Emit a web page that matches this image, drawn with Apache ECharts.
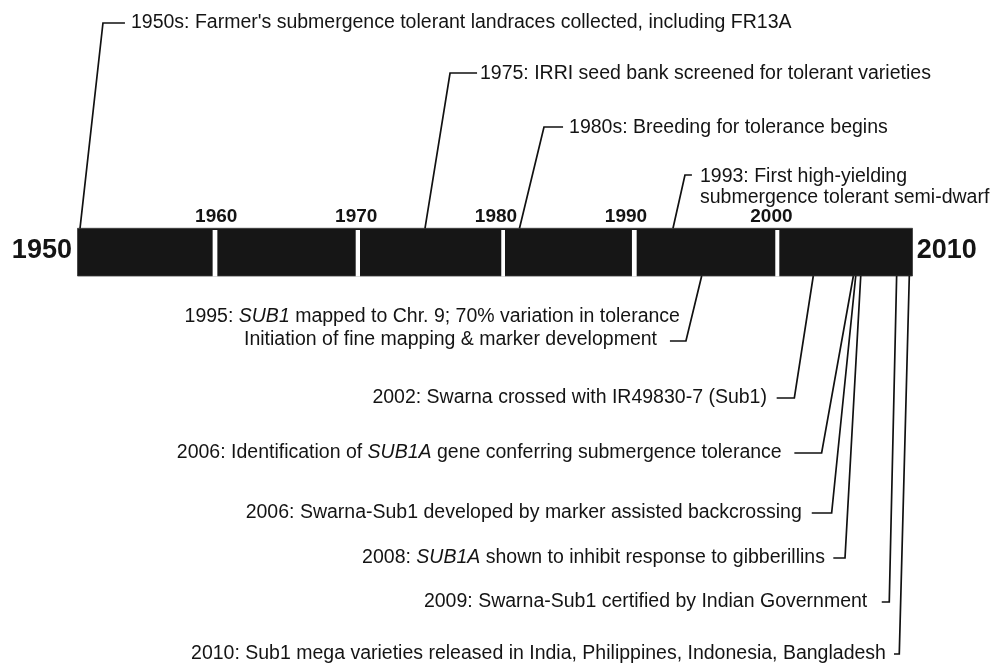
<!DOCTYPE html>
<html><head><meta charset="utf-8">
<script src="https://cdn.jsdelivr.net/npm/echarts@6/dist/echarts.min.js"></script>
<style>html,body{margin:0;padding:0;background:#fff}#c{width:1002px;height:670px}</style>
</head><body><div id="c"></div>
<script>
// ---------- data ----------
const yearRange = [1950, 2010];
const endLabels = ['1950', '2010'];
const endLabelYear = [1949.6, 2010.3];
const decadeLabels = ['1960', '1970', '1980', '1990', '2000'];
const decadeLabelYear = [1959.97, 1970.03, 1980.07, 1989.41, 1999.86];
const gapStart = [1959.71, 1969.99, 1980.45, 1989.84, 2000.14];
const gapEnd   = [1960.05, 1970.30, 1980.72, 1990.18, 2000.43];

// leader lines: year where they touch the bar, elbow year, tick end year, row
const leaderBarYear   = [1950.18, 1974.97, 1981.76, 1992.79, 1994.85, 2002.87, 2005.75, 2005.92, 2006.28, 2008.86, 2009.77];
const leaderElbowYear = [1951.83, 1976.77, 1983.52, 1993.65, 1993.72, 2001.51, 2003.47, 2004.19, 2005.15, 2008.33, 2009.05];
const leaderTickYear  = [1953.41, 1978.71, 1984.89, 1994.15, 1992.57, 2000.24, 2001.51, 2002.76, 2004.31, 2007.79, 2008.67];
const leaderRowY      = [23, 73, 127, 175, 341, 398, 453, 513, 558, 602, 654];

const noteText = [
  "1950s: Farmer's submergence tolerant landraces collected, including FR13A",
  "1975: IRRI seed bank screened for tolerant varieties",
  "1980s: Breeding for tolerance begins",
  "1993: First high-yielding",
  "submergence tolerant semi-dwarf",
  "1995: {i|SUB1} mapped to Chr. 9; 70% variation in tolerance",
  "Initiation of fine mapping & marker development",
  "2002: Swarna crossed with IR49830-7 (Sub1)",
  "2006: Identification of {i|SUB1A} gene conferring submergence tolerance",
  "2006: Swarna-Sub1 developed by marker assisted backcrossing",
  "2008: {i|SUB1A} shown to inhibit response to gibberillins",
  "2009: Swarna-Sub1 certified by Indian Government",
  "2010: Sub1 mega varieties released in India, Philippines, Indonesia, Bangladesh"
];
const noteYear  = [1953.84, 1978.92, 1985.32, 1994.73, 1994.73, 1993.29, 1991.64, 1999.54, 2000.60, 2002.04, 2003.71, 2006.75, 2008.09];
const noteRowY  = [22.5, 74, 127.5, 177, 198, 317, 340, 398, 453, 513, 558, 602, 654];
const noteAlign = ['left','left','left','left','left','right','right','right','right','right','right','right','right'];

// ---------- layout / style ----------
const FF = "'Liberation Sans', Arial, Helvetica, sans-serif";
const FS = 19.5;
const INK = '#141414';
const BAR_TOP = 228.3, BAR_BOTTOM = 276, GAP_TOP = 230;
const DECADE_Y = 217, END_Y = 251;

const chart = echarts.init(document.getElementById('c'), null, {renderer: 'canvas'});

const textStyle = (extra) => Object.assign({
  fill: INK, fontSize: FS, fontFamily: FF
}, extra);

chart.setOption({
  animation: false,
  backgroundColor: '#ffffff',
  grid: {left: 77.5, right: 89.5, top: 0, bottom: 0},
  xAxis: {type: 'value', min: yearRange[0], max: yearRange[1], show: false},
  yAxis: {type: 'value', min: 0, max: 670, inverse: true, show: false},
  series: [
    {
      type: 'custom', name: 'bar', clip: false, silent: true,
      data: [[yearRange[0], BAR_TOP]],
      renderItem: (params, api) => {
        const p0 = api.coord([yearRange[0], BAR_TOP]);
        const p1 = api.coord([yearRange[1], BAR_BOTTOM]);
        const children = [{
          type: 'rect',
          shape: {x: p0[0], y: p0[1], width: p1[0] - p0[0], height: p1[1] - p0[1]},
          style: {fill: '#161616', stroke: '#3a3a3a', lineWidth: 0.8}
        }];
        gapStart.forEach((g, i) => {
          const a = api.coord([g, GAP_TOP]);
          const b = api.coord([gapEnd[i], BAR_BOTTOM + 0.6]);
          children.push({
            type: 'rect',
            shape: {x: a[0], y: a[1], width: b[0] - a[0], height: b[1] - a[1]},
            style: {fill: '#ffffff'}
          });
        });
        return {type: 'group', children};
      }
    },
    {
      type: 'custom', name: 'leaders', clip: false, silent: true,
      data: leaderBarYear.map((x, i) => [x, leaderRowY[i]]),
      renderItem: (params, api) => {
        const i = params.dataIndex;
        const yb = leaderRowY[i] < BAR_TOP ? BAR_TOP : BAR_BOTTOM;
        const pts = [
          api.coord([leaderBarYear[i], yb]),
          api.coord([leaderElbowYear[i], leaderRowY[i]]),
          api.coord([leaderTickYear[i], leaderRowY[i]])
        ];
        return {type: 'polyline', shape: {points: pts},
          style: {stroke: '#111', lineWidth: 1.7, fill: null, lineJoin: 'miter'}};
      }
    },
    {
      type: 'custom', name: 'notes', clip: false, silent: true,
      data: noteYear.map((x, i) => [x, noteRowY[i]]),
      renderItem: (params, api) => {
        const i = params.dataIndex;
        const p = api.coord([noteYear[i], noteRowY[i]]);
        return {type: 'text', x: p[0], y: p[1],
          style: textStyle({
            text: noteText[i], align: noteAlign[i], verticalAlign: 'middle',
            rich: {i: {fontStyle: 'italic', fontSize: FS, fontFamily: FF, fill: INK}}
          })};
      }
    },
    {
      type: 'custom', name: 'decades', clip: false, silent: true,
      data: decadeLabelYear.map((x) => [x, DECADE_Y]),
      renderItem: (params, api) => {
        const i = params.dataIndex;
        const p = api.coord([decadeLabelYear[i], DECADE_Y]);
        return {type: 'text', x: p[0], y: p[1],
          style: textStyle({text: decadeLabels[i], fontSize: 19, fontWeight: 'bold',
            align: 'center', verticalAlign: 'middle'})};
      }
    },
    {
      type: 'custom', name: 'ends', clip: false, silent: true,
      data: endLabelYear.map((x) => [x, END_Y]),
      renderItem: (params, api) => {
        const i = params.dataIndex;
        const p = api.coord([endLabelYear[i], END_Y]);
        return {type: 'text', x: p[0], y: p[1],
          style: textStyle({text: endLabels[i], fontSize: 27, fontWeight: 'bold',
            align: i === 0 ? 'right' : 'left', verticalAlign: 'middle'})};
      }
    }
  ]
});
</script>
</body></html>
